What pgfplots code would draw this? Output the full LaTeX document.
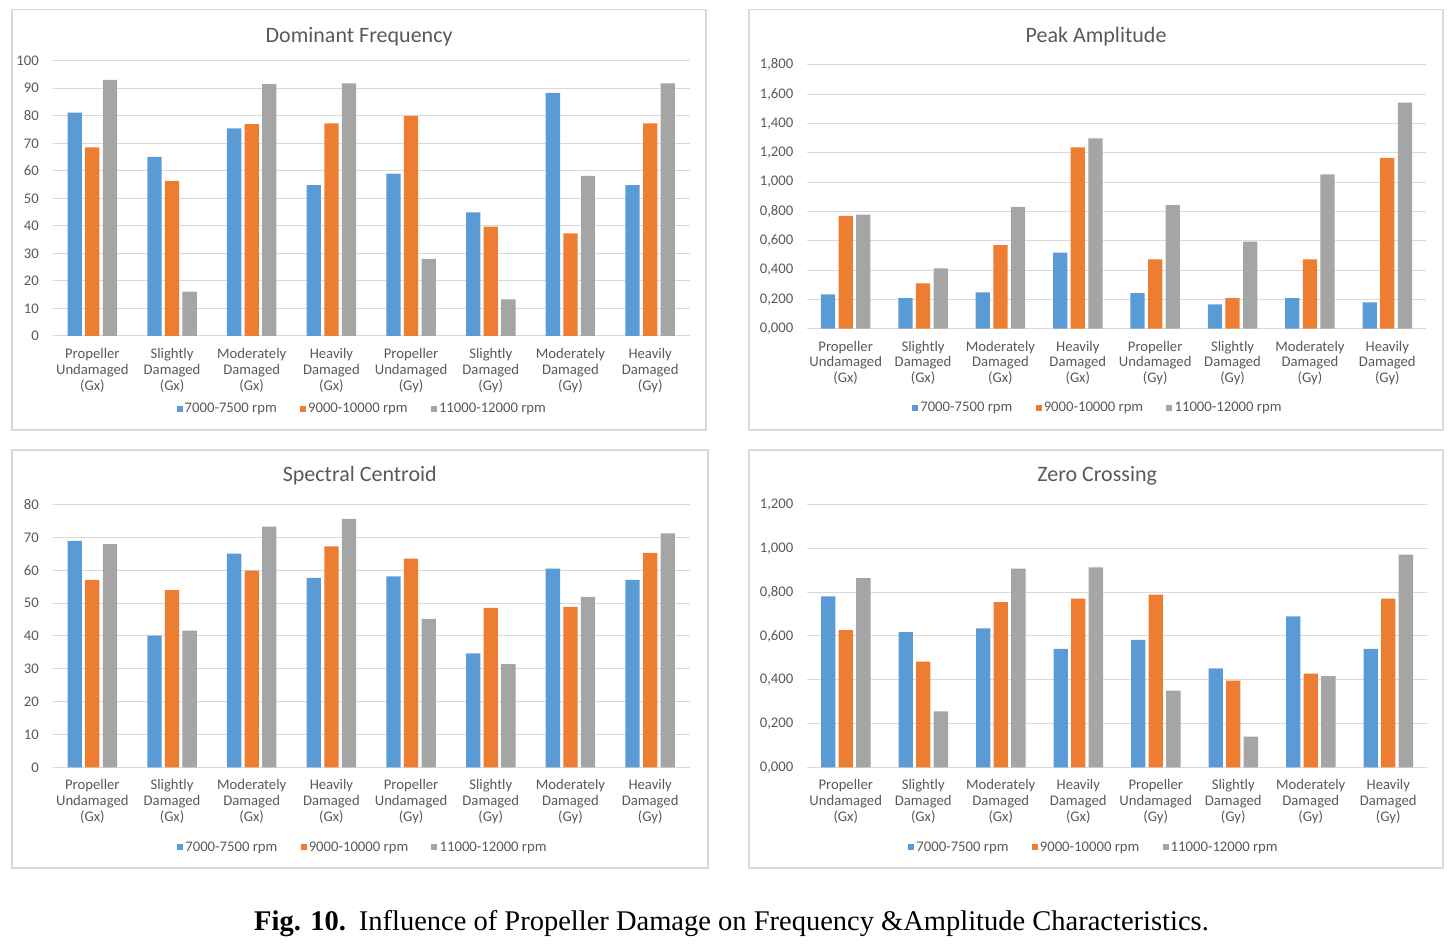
\documentclass[border=0pt]{standalone}
\usepackage{pgfplots}
\pgfplotsset{compat=1.18}
\usepackage{fontspec}
\setmainfont{Carlito}
\newfontfamily\capfont{Liberation Serif}
\definecolor{cblue}{HTML}{5B9BD5}
\definecolor{corange}{HTML}{ED7D31}
\definecolor{cgray}{HTML}{A5A5A5}
\definecolor{txt}{HTML}{595959}
\definecolor{gridc}{HTML}{D9D9D9}
\definecolor{framec}{HTML}{D9D9D9}
\pgfplotsset{
  scale only axis,
  xmin=-0.5, xmax=7.5,
  ymin=0,
  xtick={0,...,7},
  xticklabels={{Propeller\\Undamaged\\(Gx)},{Slightly\\Damaged\\(Gx)},{Moderately\\Damaged\\(Gx)},{Heavily\\Damaged\\(Gx)},{Propeller\\Undamaged\\(Gy)},{Slightly\\Damaged\\(Gy)},{Moderately\\Damaged\\(Gy)},{Heavily\\Damaged\\(Gy)}},
  axis line style={draw=none},
  major tick length=0pt,
  ymajorgrids,
  major grid style={draw=gridc, line width=1pt},
  tick label style={font=\fontsize{14.7}{15.8}\selectfont, text=txt},
  xticklabel style={align=center, anchor=north, inner sep=0pt, yshift=-12pt},
  yticklabel style={anchor=east, inner sep=0pt, xshift=-13.5pt},
  /pgf/number format/assume math mode=true,
  legend columns=3,
  legend style={draw=none, fill=none, font=\fontsize{14.7}{15.8}\selectfont, text=txt, inner sep=0pt, anchor=center,
    nodes={inner sep=2.2pt},
    /tikz/every even column/.append style={column sep=21pt}},
  title style={font=\fontsize{22}{24}\selectfont, text=txt, anchor=center},
  /pgf/bar width=14.3pt,
  sqlegend/.style={legend image code/.code={\fill[##1] (0pt,-3pt) rectangle (6pt,3pt);}},
}
\begin{document}
\begin{tikzpicture}
\useasboundingbox (0pt,0pt) rectangle (1449pt,945pt);
\draw[framec, line width=1.5pt] (12pt,935.5pt) rectangle (706pt,515pt);
\draw[framec, line width=1.5pt] (749pt,935.5pt) rectangle (1443pt,515pt);
\draw[framec, line width=1.5pt] (12pt,495pt) rectangle (708pt,77pt);
\draw[framec, line width=1.5pt] (749pt,495pt) rectangle (1443pt,77pt);

% Dominant Frequency
\begin{axis}[at={(52.5pt,609pt)}, anchor=south west, width=637.5pt, height=275.3pt,
  ybar=3.3pt, sqlegend, ymax=100, ytick={0,10,...,100},
  title={Dominant Frequency}, title style={at={(axis description cs:0.481,1.064)}},
  legend style={at={(axis description cs:0.486,-0.265)}}]
\addplot[fill=cblue, draw=none] coordinates {(0,81.1) (1,65.1) (2,75.4) (3,54.8) (4,59.0) (5,44.9) (6,88.3) (7,54.8)};
\addplot[fill=corange, draw=none] coordinates {(0,68.5) (1,56.3) (2,77.0) (3,77.2) (4,80.0) (5,39.7) (6,37.3) (7,77.2)};
\addplot[fill=cgray, draw=none] coordinates {(0,93.0) (1,16.1) (2,91.5) (3,91.8) (4,28.0) (5,13.3) (6,58.2) (7,91.8)};
\legend{7000-7500 rpm, 9000-10000 rpm, 11000-12000 rpm}
\end{axis}

% Peak Amplitude
\begin{axis}[at={(807pt,616.3pt)}, anchor=south west, width=619pt, height=264pt,
  ybar=3.3pt, sqlegend, ymax=1.8, ytick={0,0.2,0.4,0.6,0.8,1.0,1.2,1.4,1.6,1.8},
  yticklabels={{0,000},{0,200},{0,400},{0,600},{0,800},{1,000},{1,200},{1,400},{1,600},{1,800}},
  title={Peak Amplitude}, title style={at={(axis description cs:0.467,1.0825)}},
  legend style={at={(axis description cs:0.470,-0.300)}}]
\addplot[fill=cblue, draw=none] coordinates {(0,0.234) (1,0.209) (2,0.248) (3,0.518) (4,0.243) (5,0.166) (6,0.209) (7,0.180)};
\addplot[fill=corange, draw=none] coordinates {(0,0.770) (1,0.309) (2,0.570) (3,1.236) (4,0.473) (5,0.209) (6,0.473) (7,1.164)};
\addplot[fill=cgray, draw=none] coordinates {(0,0.777) (1,0.411) (2,0.830) (3,1.298) (4,0.843) (5,0.593) (6,1.052) (7,1.541)};
\legend{7000-7500 rpm, 9000-10000 rpm, 11000-12000 rpm}
\end{axis}

% Spectral Centroid
\begin{axis}[at={(52.5pt,177.7pt)}, anchor=south west, width=637.5pt, height=262.6pt,
  ybar=3.3pt, sqlegend, ymax=80, ytick={0,10,...,80},
  title={Spectral Centroid}, title style={at={(axis description cs:0.482,1.0865)}},
  legend style={at={(axis description cs:0.487,-0.3035)}}]
\addplot[fill=cblue, draw=none] coordinates {(0,69.0) (1,40.1) (2,65.1) (3,57.7) (4,58.2) (5,34.7) (6,60.5) (7,57.1)};
\addplot[fill=corange, draw=none] coordinates {(0,57.1) (1,54.0) (2,59.9) (3,67.3) (4,63.6) (5,48.6) (6,48.9) (7,65.3)};
\addplot[fill=cgray, draw=none] coordinates {(0,68.0) (1,41.6) (2,73.3) (3,75.7) (4,45.2) (5,31.4) (6,51.9) (7,71.3)};
\legend{7000-7500 rpm, 9000-10000 rpm, 11000-12000 rpm}
\end{axis}

% Zero Crossing
\begin{axis}[at={(807pt,177.7pt)}, anchor=south west, width=620pt, height=262.6pt,
  ybar=3.3pt, sqlegend, ymax=1.2, ytick={0,0.2,0.4,0.6,0.8,1.0,1.2},
  yticklabels={{0,000},{0,200},{0,400},{0,600},{0,800},{1,000},{1,200}},
  title={Zero Crossing}, title style={at={(axis description cs:0.468,1.0865)}},
  legend style={at={(axis description cs:0.463,-0.3035)}}]
\addplot[fill=cblue, draw=none] coordinates {(0,0.781) (1,0.618) (2,0.635) (3,0.541) (4,0.582) (5,0.452) (6,0.690) (7,0.541)};
\addplot[fill=corange, draw=none] coordinates {(0,0.627) (1,0.483) (2,0.755) (3,0.771) (4,0.789) (5,0.396) (6,0.428) (7,0.771)};
\addplot[fill=cgray, draw=none] coordinates {(0,0.865) (1,0.256) (2,0.908) (3,0.914) (4,0.350) (5,0.140) (6,0.417) (7,0.972)};
\legend{7000-7500 rpm, 9000-10000 rpm, 11000-12000 rpm}
\end{axis}

\node[font=\capfont\fontsize{28.5}{31}\selectfont, anchor=base, text=black] at (731.5pt,14pt) {\textbf{Fig. 10.}\hspace{0.45em}Influence of Propeller Damage on Frequency \&Amplitude Characteristics.};
\end{tikzpicture}
\end{document}
